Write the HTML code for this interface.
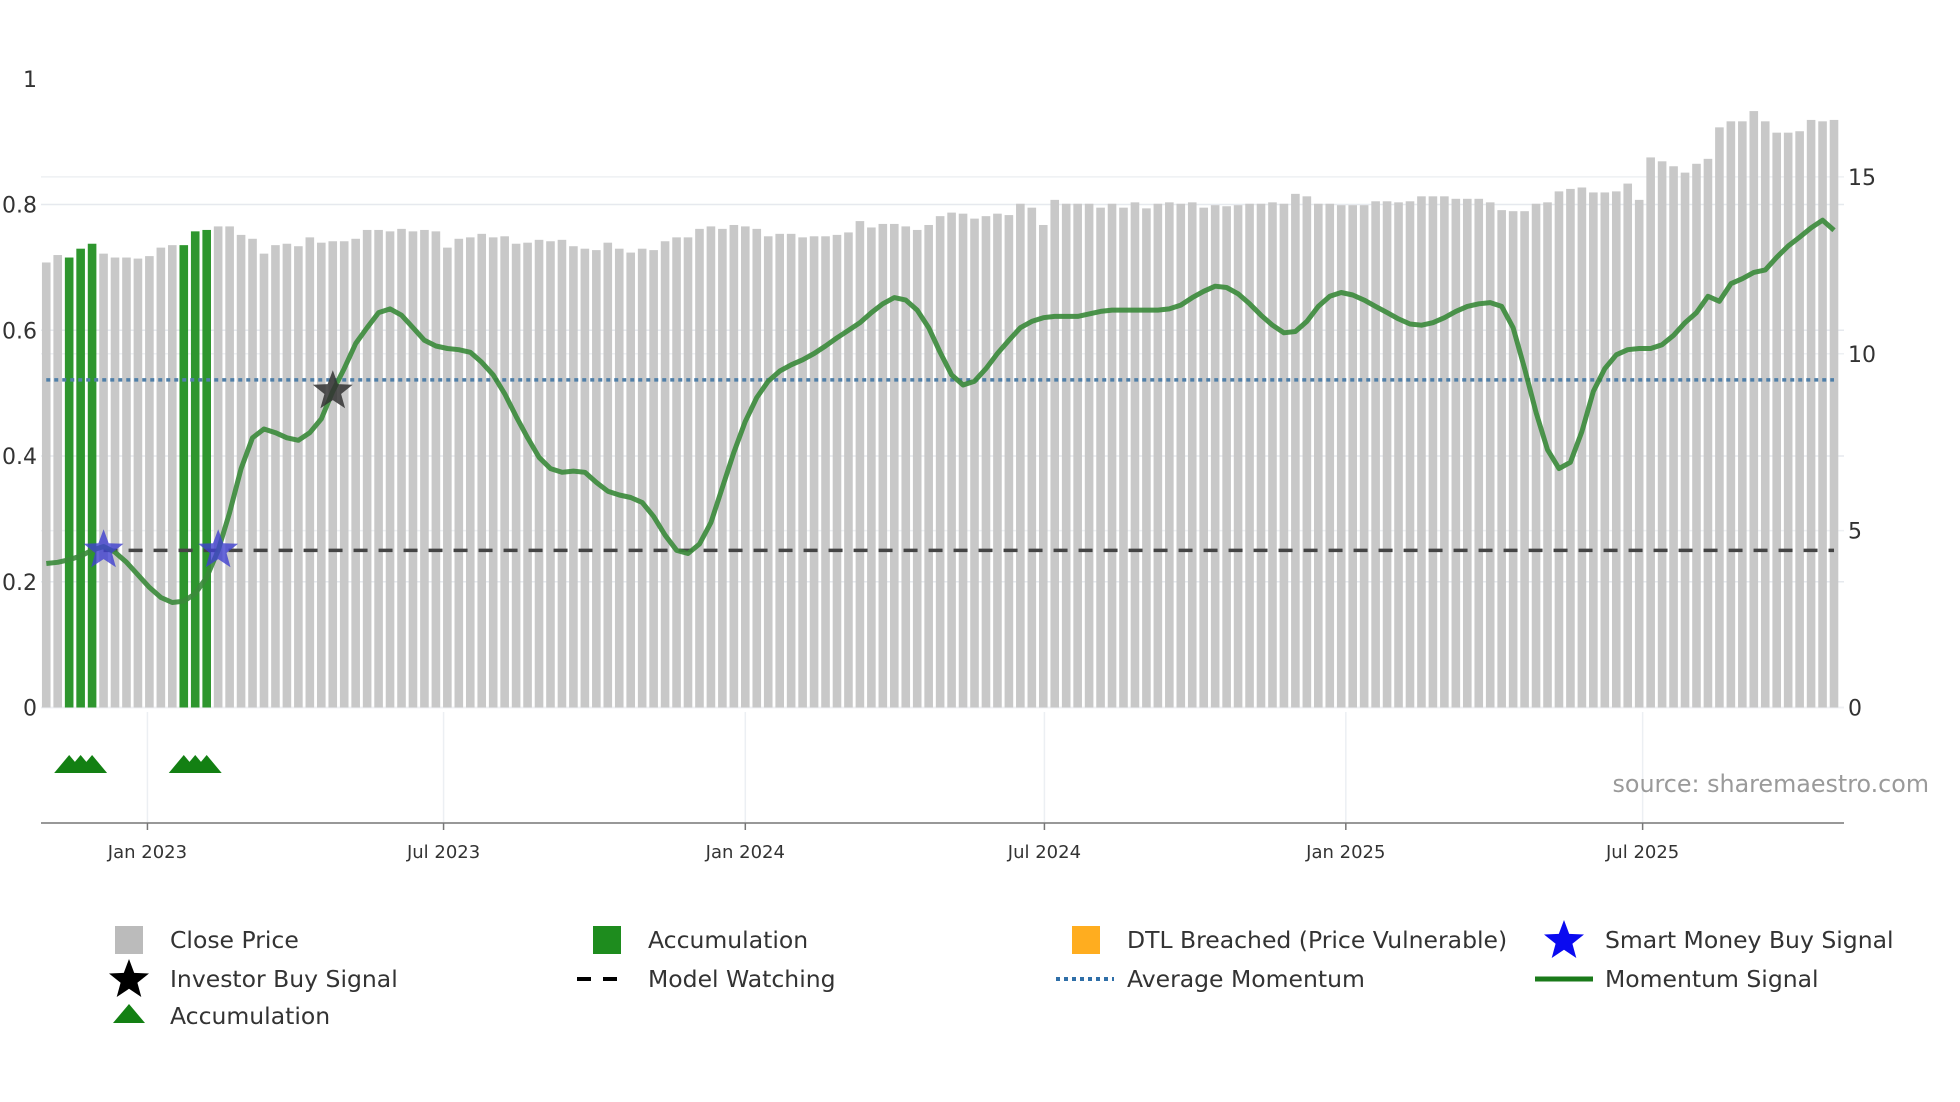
<!DOCTYPE html>
<html><head><meta charset="utf-8"><style>
html,body{margin:0;padding:0;background:#fff;}
svg{display:block;font-family:"DejaVu Sans","Liberation Sans",sans-serif;}
</style></head><body>
<svg id="chart" width="1960" height="1102" viewBox="0 0 1960 1102" xmlns="http://www.w3.org/2000/svg">
<g id="grid"></g>
<g id="bars"></g>
<g id="lines"></g>
<g id="marks"></g>
<g id="axes"></g>
<text x="1929" y="792" text-anchor="end" font-size="23.8" fill="#9a9a9a">source: sharemaestro.com</text>
<g id="legend"></g>
</svg>
<script>
const prices = [12.58,12.79,12.72,12.97,13.11,12.83,12.72,12.72,12.69,12.76,13.0,13.07,13.07,13.46,13.5,13.6,13.6,13.36,13.25,12.83,13.07,13.11,13.04,13.29,13.14,13.18,13.18,13.25,13.5,13.5,13.46,13.53,13.46,13.5,13.46,13.0,13.25,13.29,13.39,13.29,13.32,13.11,13.14,13.22,13.18,13.22,13.04,12.97,12.93,13.14,12.97,12.86,12.97,12.93,13.18,13.29,13.29,13.53,13.6,13.53,13.64,13.6,13.53,13.32,13.39,13.39,13.29,13.32,13.32,13.36,13.43,13.75,13.57,13.67,13.67,13.6,13.5,13.64,13.89,13.99,13.96,13.82,13.89,13.96,13.92,14.24,14.13,13.64,14.35,14.24,14.24,14.24,14.13,14.24,14.13,14.28,14.11,14.24,14.28,14.24,14.28,14.13,14.2,14.17,14.2,14.24,14.24,14.28,14.24,14.52,14.45,14.24,14.24,14.2,14.2,14.2,14.31,14.31,14.28,14.31,14.45,14.45,14.45,14.38,14.38,14.38,14.28,14.06,14.03,14.03,14.24,14.28,14.59,14.66,14.7,14.56,14.56,14.59,14.81,14.35,15.55,15.44,15.3,15.12,15.37,15.51,16.4,16.57,16.57,16.86,16.57,16.25,16.25,16.29,16.61,16.57,16.61];
const momentum = [.229,.231,.235,.241,.250,.256,.247,.231,.211,.191,.175,.167,.169,.181,.207,.250,.310,.380,.429,.443,.437,.429,.425,.437,.459,.503,.539,.579,.604,.628,.634,.624,.604,.584,.575,.571,.569,.565,.549,.529,.499,.463,.429,.398,.380,.374,.376,.374,.358,.344,.338,.334,.326,.304,.274,.250,.245,.260,.294,.350,.406,.455,.493,.519,.535,.545,.553,.563,.575,.588,.600,.612,.628,.642,.652,.648,.632,.604,.565,.529,.513,.519,.539,.563,.584,.604,.614,.620,.622,.622,.622,.626,.630,.632,.632,.632,.632,.632,.634,.640,.652,.662,.670,.668,.658,.642,.624,.608,.596,.598,.614,.638,.654,.660,.656,.648,.638,.628,.618,.610,.608,.612,.620,.630,.638,.642,.644,.638,.604,.539,.469,.410,.380,.390,.439,.503,.539,.561,.569,.571,.571,.577,.592,.612,.628,.654,.646,.674,.682,.692,.696,.716,.734,.748,.763,.775,.759];
const accumulationIdx = [2,3,4,12,13,14];
const smartMoneyIdx = [5,15];
const investorIdx = [25];
const avgMomentum = 0.521;
const watchLevel = 0.25;
const leftTicks = [0,0.2,0.4,0.6,0.8,1];
const leftTickLabels = ["0","0.2","0.4","0.6","0.8","1"];
const rightTicks = [0,5,10,15];
const dateTicks = ["Jan 2023","Jul 2023","Jan 2024","Jul 2024","Jan 2025","Jul 2025"];
const dateTickIdx = [8.83,34.67,61.0,87.1,113.4,139.3];

const NS="http://www.w3.org/2000/svg";
const X0=46.25, DX=11.46, Y0=707.5;
const xi=i=>X0+DX*i;
const yL=v=>Y0-v*628.75;
const yR=v=>Y0-v*35.375;
function el(tag,attrs,parent,text){const e=document.createElementNS(NS,tag);for(const k in attrs)e.setAttribute(k,attrs[k]);if(text!==undefined)e.textContent=text;parent.appendChild(e);return e;}
const G=id=>document.getElementById(id);

leftTicks.forEach(v=>{if(v>=1)return;const l=el('line',{x1:41,x2:1844,y1:yL(v),y2:yL(v),stroke:'#e6e9ee','stroke-width':1.5},G('grid'));

});
rightTicks.forEach(v=>{const l=el('line',{x1:41,x2:1844,y1:yR(v),y2:yR(v),stroke:'#eef0f3','stroke-width':1.5},G('grid'));

});
dateTickIdx.forEach(i=>{const l=el('line',{x1:xi(i),x2:xi(i),y1:712,y2:822,stroke:'#eceff3','stroke-width':1.5},G('grid'));

});

prices.forEach((p,i)=>{const acc=accumulationIdx.includes(i);
const r=el('rect',{x:xi(i)-4.3,y:yR(p),width:8.6,height:Y0-yR(p),fill:acc?'#2e962e':'#c8c8c8'},G('bars'));

});

const n=prices.length;
let a=el('line',{x1:xi(0),x2:xi(n-1),y1:yL(avgMomentum),y2:yL(avgMomentum),stroke:'#4f7fa8','stroke-width':3.5,'stroke-dasharray':'4 4'},G('lines'));


let w=el('line',{x1:xi(5),x2:xi(n-1),y1:yL(watchLevel),y2:yL(watchLevel),stroke:'#444','stroke-width':3.5,'stroke-dasharray':'14 11'},G('lines'));


let d='';momentum.forEach((m,i)=>{if(i<n)d+=(i?'L':'M')+xi(i).toFixed(1)+','+yL(m).toFixed(1);});
let ml=el('path',{d:d,fill:'none',stroke:'#3a8a3a','stroke-opacity':0.9,'stroke-width':5,'stroke-linejoin':'round'},G('lines'));



function starPath(cx,cy,R){const r=R*0.42;let p='';for(let k=0;k<10;k++){const rr=k%2?r:R;const t=-Math.PI/2+k*Math.PI/5;p+=(k?'L':'M')+(cx+rr*Math.cos(t)).toFixed(1)+','+(cy+rr*Math.sin(t)).toFixed(1);}return p+'Z';}
smartMoneyIdx.forEach(i=>{const s=el('path',{d:starPath(xi(i),yL(watchLevel),21),fill:'#4040d0','fill-opacity':0.8},G('marks'));

});
investorIdx.forEach(i=>{const s=el('path',{d:starPath(xi(i),yL(momentum[i]),21),fill:'#333','fill-opacity':0.85},G('marks'));

});
accumulationIdx.forEach(i=>{const t=el('path',{d:`M${xi(i)-15},773L${xi(i)},755L${xi(i)+15},773Z`,fill:'#138013'},G('marks'));

});

let ax=el('line',{x1:41,x2:1844,y1:823,y2:823,stroke:'#777','stroke-width':1.5},G('axes'));


leftTicks.forEach((v,k)=>{const t=el('text',{x:37,y:yL(v)+8,'text-anchor':'end','font-size':22,fill:'#333'},G('axes'),leftTickLabels[k]);

});
rightTicks.forEach(v=>{const t=el('text',{x:1848,y:yR(v)+8,'font-size':22,fill:'#333'},G('axes'),String(v));

});
dateTicks.forEach((s,k)=>{const x=xi(dateTickIdx[k]);
const tk=el('line',{x1:x,x2:x,y1:823,y2:830,stroke:'#777','stroke-width':1.5},G('axes'));


const t=el('text',{x:x,y:858,'text-anchor':'middle','font-size':18,fill:'#333'},G('axes'),s);

});

const L=G('legend');
const items=[
 [129,940,'Close Price','rect','#bbb'],[607,940,'Accumulation','rect','#1e8c1e'],[1086,940,'DTL Breached (Price Vulnerable)','rect','#ffad1f'],[1564,940,'Smart Money Buy Signal','star','#0a0af0'],
 [129,979,'Investor Buy Signal','star','#000'],[607,979,'Model Watching','dash','#000'],[1086,979,'Average Momentum','dot','#2f6fa8'],[1564,979,'Momentum Signal','line','#1a7a1a'],
 [129,1016,'Accumulation','tri','#138013']];
items.forEach(([x,y,label,kind,c])=>{const g=el('g',{},L);


if(kind==='rect')el('rect',{x:x-14,y:y-14,width:28,height:28,fill:c},g);
if(kind==='star')el('path',{d:starPath(x,y+1,21),fill:c},g);
if(kind==='dash')el('line',{x1:x-30,x2:x+22,y1:y,y2:y,stroke:c,'stroke-width':4,'stroke-dasharray':'14 12'},g);
if(kind==='dot')el('line',{x1:x-30,x2:x+28,y1:y,y2:y,stroke:c,'stroke-width':4,'stroke-dasharray':'4 4'},g);
if(kind==='line')el('line',{x1:x-29,x2:x+29,y1:y,y2:y,stroke:c,'stroke-width':5},g);
if(kind==='tri')el('path',{d:`M${x-16},${y+7}L${x},${y-12}L${x+16},${y+7}Z`,fill:c},g);
el('text',{x:x+41,y:y+8,'font-size':23.5,fill:'#333'},g,label);});
</script>
</body></html>
